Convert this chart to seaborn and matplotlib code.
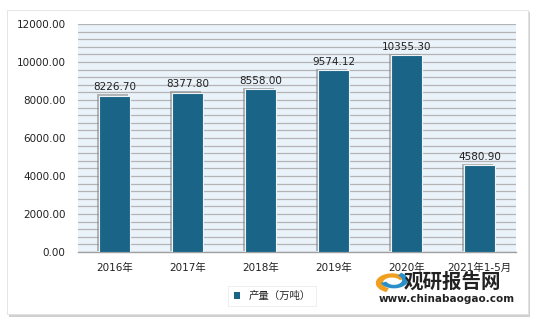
import matplotlib
matplotlib.use("Agg")
import matplotlib.pyplot as plt
import matplotlib.patheffects as pe
from matplotlib.patches import Rectangle, Patch, Wedge
from matplotlib.ticker import MultipleLocator, FormatStrFormatter
import seaborn as sns
import pandas as pd

categories = ["2016年", "2017年", "2018年", "2019年", "2020年", "2021年1-5月"]
values = [8226.70, 8377.80, 8558.00, 9574.12, 10355.30, 4580.90]
value_labels = ["8226.70", "8377.80", "8558.00", "9574.12", "10355.30", "4580.90"]
series_name = "产量（万吨）"

sns.set_theme(style="white")
plt.rcParams['font.family'] = ['DejaVu Sans', 'Noto Sans CJK SC']

fig = plt.figure(figsize=(5.40, 3.22), dpi=100)
fig.patch.set_facecolor("white")

# outer panel with shadow
fig.patches.append(Rectangle((9/540, 1 - 317/322), 521/540, 305/322, transform=fig.transFigure,
                             facecolor="#d0d0d0", edgecolor="none", zorder=-2))
fig.patches.append(Rectangle((7/540, 1 - 314/322), 521/540, 304/322, transform=fig.transFigure,
                             facecolor="white", edgecolor="#e0e0e0", lw=0.6, zorder=-1))

ax = fig.add_axes([78/540, 1 - 252/322, 438/540, 228/322])
ax.set_facecolor("#eaf2fa")

df = pd.DataFrame({"cat": categories, "val": values})
sns.barplot(data=df, x="cat", y="val", color="#1a6487", width=0.42, ax=ax,
            saturation=1, edgecolor="#eef4f8", linewidth=0.8, zorder=3)
for p in ax.patches:
    p.set_path_effects([pe.SimplePatchShadow(offset=(-1.5, 1), shadow_rgbFace="#8a8a8a", alpha=0.6), pe.Normal()])

ax.set_ylim(0, 12000)
ax.yaxis.set_major_locator(MultipleLocator(2000))
ax.yaxis.set_minor_locator(MultipleLocator(400))
ax.yaxis.set_major_formatter(FormatStrFormatter("%.2f"))
ax.grid(True, which="both", axis="y", color="#b4b4b4", linewidth=0.9, zorder=0)
ax.set_axisbelow(True)
for s in ["top", "right", "left"]:
    ax.spines[s].set_visible(False)
ax.spines["bottom"].set_color("#a0a0a0")
ax.spines["bottom"].set_linewidth(1.0)
ax.tick_params(axis="both", which="both", length=0, labelsize=7.5, colors="#222222")
ax.tick_params(axis="x", pad=8)
ax.tick_params(axis="y", pad=9)
ax.set_xlabel("")
ax.set_ylabel("")

for i, (v, lab) in enumerate(zip(values, value_labels)):
    ax.text(i, v + 180, lab, ha="center", va="bottom", fontsize=7.5, color="#222222")

# legend
leg = fig.legend(handles=[Patch(facecolor="#1a6487", edgecolor="none")], labels=[series_name],
                 loc="center", bbox_to_anchor=(272/540, 1 - 296/322), frameon=True, fontsize=7.5,
                 handlelength=0.6, handleheight=0.6, borderpad=0.5, fancybox=False)
leg.get_frame().set_edgecolor("#e6e6e6")
leg.get_frame().set_linewidth(0.6)

# watermark
fig.text(452/540, 1 - 282/322, "观研报告网", ha="center", va="center", fontsize=14,
         fontweight="bold", color="#222222", zorder=10, family=['Noto Sans CJK SC'])
fig.text(447/540, 1 - 299/322, "www.chinabaogao.com", ha="center", va="center", fontsize=7.5,
         fontweight="bold", color="#222222", zorder=10)
fig.patches.append(Wedge((392/540, 1 - 283/322), 0.03, 30, 250, width=0.013,
                         transform=fig.transFigure, facecolor="#f0a020", edgecolor="none", zorder=10))
fig.patches.append(Wedge((394/540, 1 - 280/322), 0.026, 200, 420, width=0.011,
                         transform=fig.transFigure, facecolor="#2a8fc8", edgecolor="none", zorder=10))

fig.savefig("out.png", dpi=100)
